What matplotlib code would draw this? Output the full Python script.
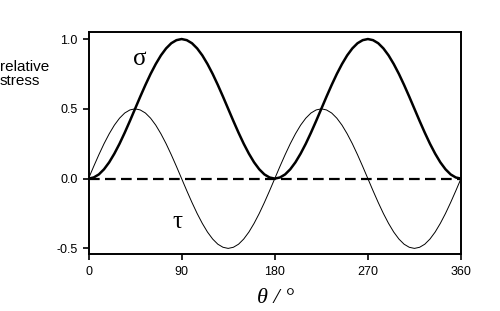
import matplotlib
matplotlib.use("Agg")

import matplotlib.pyplot as plt

# --- Data (5 degree steps) ---
THETA = list(range(0, 361, 5))

SIGMA = [
    0.0, 0.008, 0.030, 0.067, 0.117, 0.179, 0.25, 0.329, 0.413, 0.5,
    0.587, 0.671, 0.75, 0.821, 0.883, 0.933, 0.970, 0.992, 1.0,
    0.992, 0.970, 0.933, 0.883, 0.821, 0.75, 0.671, 0.587, 0.5,
    0.413, 0.329, 0.25, 0.179, 0.117, 0.067, 0.030, 0.008, 0.0,
    0.008, 0.030, 0.067, 0.117, 0.179, 0.25, 0.329, 0.413, 0.5,
    0.587, 0.671, 0.75, 0.821, 0.883, 0.933, 0.970, 0.992, 1.0,
    0.992, 0.970, 0.933, 0.883, 0.821, 0.75, 0.671, 0.587, 0.5,
    0.413, 0.329, 0.25, 0.179, 0.117, 0.067, 0.030, 0.008, 0.0,
]

TAU = [
    0.0, 0.087, 0.171, 0.25, 0.321, 0.383, 0.433, 0.470, 0.492, 0.5,
    0.492, 0.470, 0.433, 0.383, 0.321, 0.25, 0.171, 0.087, 0.0,
    -0.087, -0.171, -0.25, -0.321, -0.383, -0.433, -0.470, -0.492, -0.5,
    -0.492, -0.470, -0.433, -0.383, -0.321, -0.25, -0.171, -0.087, 0.0,
    0.087, 0.171, 0.25, 0.321, 0.383, 0.433, 0.470, 0.492, 0.5,
    0.492, 0.470, 0.433, 0.383, 0.321, 0.25, 0.171, 0.087, 0.0,
    -0.087, -0.171, -0.25, -0.321, -0.383, -0.433, -0.470, -0.492, -0.5,
    -0.492, -0.470, -0.433, -0.383, -0.321, -0.25, -0.171, -0.087, 0.0,
]

BASELINE_X = [0, 360]
BASELINE = [0.0, 0.0]

X_TICKS = [0, 90, 180, 270, 360]
Y_TICKS = [-0.5, 0.0, 0.5, 1.0]

SERIF = ["Liberation Serif", "DejaVu Serif"]

plt.rcParams["font.family"] = ["Liberation Sans", "DejaVu Sans"]
plt.rcParams["axes.unicode_minus"] = False

fig = plt.figure(figsize=(5.0, 3.11), dpi=100)
ax = fig.add_axes([0.177, 0.182, 0.745, 0.714])

ax.plot(BASELINE_X, BASELINE, color="black", lw=1.6, ls=(0, (4.8, 2.4)))
ax.plot(THETA, TAU, color="black", lw=0.7)
ax.plot(THETA, SIGMA, color="black", lw=1.8)

ax.set_xlim(0, 360)
ax.set_ylim(-0.543, 1.048)
ax.set_xticks(X_TICKS)
ax.set_yticks(Y_TICKS)
ax.set_yticklabels([f"{v:.1f}" for v in Y_TICKS])
ax.tick_params(direction="out", length=4, width=1.2, labelsize=9, pad=4)
for sp in ax.spines.values():
    sp.set_linewidth(1.4)

ax.text(49.6, 0.86, "σ", family=SERIF, fontsize=18, ha="center", va="center")
ax.text(86, -0.31, "τ", family=SERIF, fontsize=18, ha="center", va="center")

fig.text(0.0, 0.762, "relative\nstress", fontsize=11, ha="left", va="center",
         linespacing=1.05)
fig.text(0.552, 0.04, "θ / °", family=SERIF, style="italic", fontsize=16,
         ha="center", va="center")

plt.savefig("out.png", dpi=100)
plt.close()
